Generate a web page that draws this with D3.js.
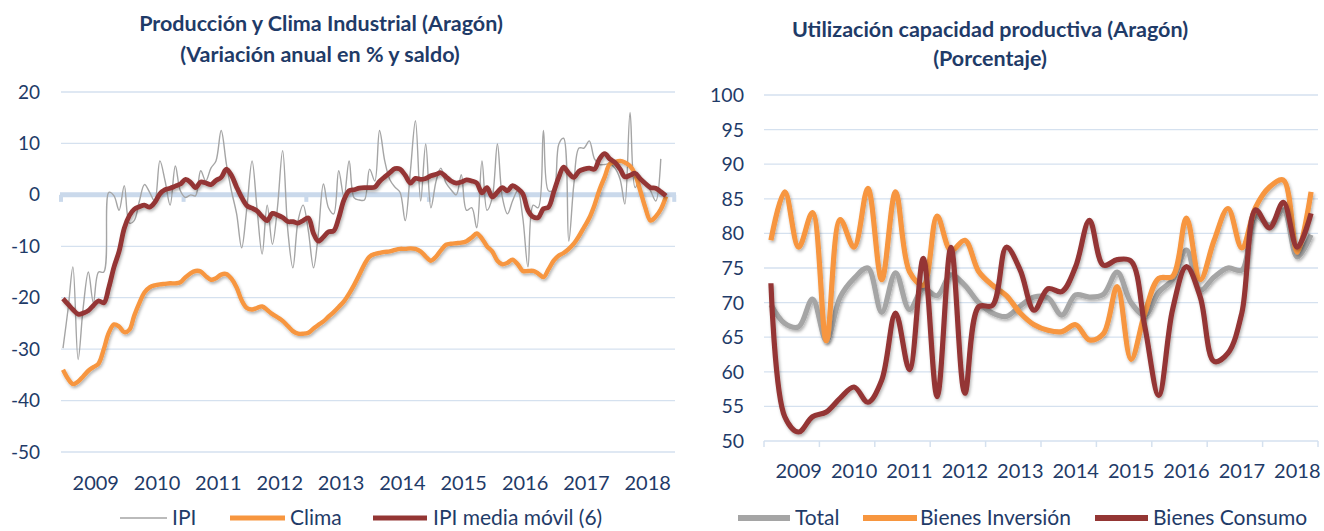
<!DOCTYPE html>
<html><head><meta charset="utf-8">
<script src="https://cdn.jsdelivr.net/npm/d3@7"></script>
<style>
body{margin:0;background:#fff}
svg{display:block}
text{font-family:Lato,"Open Sans",sans-serif}
</style>
</head><body>
<svg id="c" width="1324" height="531"></svg>
<script>
// ---------- DATA ----------
const years = ["2009","2010","2011","2012","2013","2014","2015","2016","2017","2018"];
const leftTicks = [20,10,0,-10,-20,-30,-40,-50];
const rightTicks = [100,95,90,85,80,75,70,65,60,55,50];

// Left chart: monthly, Jan 2009 onward
const ipi = [-29.8,-22,-14,-32,-22,-15,-21,-15,-15,0.5,-0.2,-3,
  1.8,-5.5,-5,-1.2,2,0.5,-1.2,6.6,2.7,-2,5.6,0.8,
  -0.5,0,-0.2,4.7,2.7,5.2,6.6,12.5,6,0.8,-3.7,-10.3,
  -2.5,6.6,-2.5,-11.5,-2,-9.6,-2.5,8.6,-7,-14.2,-5,-2,
  -7,-14.2,-7.8,2.1,-2.5,-3.7,4.7,-0.4,6.6,-0.6,-1,-1,
  5,2.7,12.5,6.6,3,1.5,0.5,-5,4.7,14.4,-1.2,9.9,
  -2.5,2.7,5.2,2.3,1,0,3.9,-3,-2.5,-6.4,6.6,-3,
  -0.6,9.9,-0.4,-3.7,-1.2,0.8,-4.4,-14,-2,-2.5,12.5,0.8,
  1,9.9,11,-9,2,9.1,9.1,10.5,7,5.9,5.9,6,
  5.2,3,-1.8,16,1.4,3.3,2.5,0.8,-1.2,7];
const clima = [-34,-35.8,-36.8,-36.3,-35.3,-34.2,-33.5,-32.8,-30,-26.8,-25.2,-25.6,
  -26.7,-26.2,-23.5,-21,-19,-18,-17.6,-17.4,-17.3,-17.2,-17.2,-17,
  -16,-15.2,-14.8,-14.9,-15.8,-16.5,-16.2,-15.5,-15.4,-16.3,-18,-20.5,
  -22,-22.3,-22,-21.7,-22.4,-23.2,-23.8,-24.5,-25.5,-26.5,-27,-27,
  -26.8,-26,-25.3,-24.6,-23.7,-22.8,-21.8,-20.7,-19.2,-17.5,-15.5,-13.5,
  -12,-11.5,-11.3,-11.1,-11,-10.7,-10.5,-10.5,-10.4,-10.5,-11,-12,
  -12.8,-12,-10.8,-9.7,-9.5,-9.4,-9.3,-9,-8.3,-7.5,-8.5,-10,
  -11,-12.8,-13.5,-13.2,-12.6,-13.5,-14.8,-14.8,-14.8,-15.3,-16,-14.5,
  -12.8,-11.8,-11.3,-10.5,-9.5,-8,-6.3,-4.5,-2,1,3.5,6,
  6.4,6.6,6.3,5.6,4,0.8,-2.5,-5,-4.2,-2.8,-0.3];
const ipiMM = [-20.2,-21.3,-22.3,-23.2,-23,-22.5,-21.5,-20.6,-21,-18,-14,-11,
  -6.5,-4,-2.8,-2.3,-2,-2.4,-1.5,0.2,1,1.3,1.7,2.1,
  3,2.4,1.4,2.5,2.3,2,2.8,3.4,5,3.8,1.5,-0.5,
  -2.1,-2.6,-3.1,-4.2,-5,-3.6,-3.9,-4.4,-5.2,-5.2,-5.5,-5,
  -4.5,-7.5,-9,-8.2,-7.2,-7,-4.5,-1,0.8,1,1.3,1.4,
  1.4,1.5,2.6,3.5,4.3,5.1,5,3.8,2.3,3.2,3,3.2,
  3.7,4,4.3,3.5,2.7,2.3,2.5,2.9,2.7,2.3,0.4,1.4,
  -0.4,0.5,1.4,0.8,1.8,1.2,0.2,-3,-4.3,-4.4,-2.7,-2.4,
  0.5,3.5,5.4,4.2,3.4,4.6,5,5.2,5,7,8,7,
  6.3,5,3.5,3.8,4.2,3.1,2.2,1.4,1.3,0.6,-0.2];

// Right chart: quarterly, 2009 Q1 onward
const total = [69.7,67,66.5,70.5,64.5,70.8,73.5,75,68.6,74.3,69,72,
  71,74,72.5,70,68.5,68,69.5,70.8,70.7,68.2,71.1,70.8,
  71.2,74.4,70,68.2,71.5,73.3,77.6,71.8,73.7,75,74.7,82.5,
  81.2,83.4,76.6,79.8];
const inversion = [79,86,78,83,64.5,82,78,86.5,73.3,86,74.5,72.5,
  82.5,77.5,79,74.5,72.5,71,68.5,66.8,66,65.8,66.8,64.6,
  65.5,72.3,61.8,68.5,73.5,73.8,82.2,73.3,79,83.6,77.9,83.8,
  86.7,87.7,77.3,86];
const consumo = [72.8,53.5,51.3,53.5,54.2,56.2,57.8,55.6,58.8,68.5,60.3,76.4,
  56.4,78,56.9,69.4,69.6,78,74.7,68.9,72,71.6,75.2,81.9,
  75.4,76.2,76,66.5,56.6,69,75.2,70.8,61.5,62.7,68.5,83.4,
  80.8,84.5,78,82.9];

// ---------- STYLE ----------
const navy = "#1f3b68";
const gridCol = "#d5e1ef";
const cGray = "#a5a5a5", cOrange = "#f7963f", cRed = "#943634";

const svg = d3.select("#c");
const defs = svg.append("defs");
const f = defs.append("filter").attr("id","sh").attr("x","-5%").attr("y","-10%").attr("width","110%").attr("height","130%");
f.append("feDropShadow").attr("dx",1.2).attr("dy",2).attr("stdDeviation",1.4)
  .attr("flood-color","#000").attr("flood-opacity",0.3);

// ---------- LEFT CHART ----------
const months = d3.timeMonth.range(new Date(2009,0,1), new Date(2018,11,2));
const xL = d3.scaleTime().domain([new Date(2009,0,1), new Date(2018,10,1)]).range([63,666]);
const yL = d3.scaleLinear().domain([-50,20]).range([452,92]);
const gL = svg.append("g");

gL.selectAll("line.grid").data(leftTicks.filter(d=>d!==0)).join("line")
  .attr("x1",61).attr("x2",675).attr("y1",d=>yL(d)).attr("y2",d=>yL(d))
  .attr("stroke",gridCol).attr("stroke-width",1.3);
gL.append("line").attr("x1",60).attr("x2",676).attr("y1",yL(0)).attr("y2",yL(0))
  .attr("stroke","#cad9eb").attr("stroke-width",5);
const tickDates = d3.range(2009,2020,2).map(y=>new Date(y,0,1));
gL.selectAll("line.tk").data(tickDates).join("line")
  .attr("x1",d=>xL(d)-2).attr("x2",d=>xL(d)-2).attr("y1",yL(0)).attr("y2",yL(0)+7)
  .attr("stroke","#cad9eb").attr("stroke-width",4);

gL.selectAll("text.yl").data(leftTicks).join("text")
  .attr("x",40).attr("y",d=>yL(d)+6.5).attr("text-anchor","end")
  .attr("font-size",19).attr("fill",navy).text(d=>d);
gL.selectAll("text.xl").data(years).join("text")
  .attr("x",d=>xL(new Date(+d,6,15))).attr("y",490).attr("text-anchor","middle")
  .attr("font-size",20).attr("fill",navy).text(d=>d);

const lineL = arr => d3.line().x((d,i)=>xL(months[i])).y(d=>yL(d)).curve(d3.curveCatmullRom.alpha(0.5))(arr);
gL.append("path").attr("d",lineL(ipi)).attr("fill","none").attr("stroke",cGray).attr("stroke-width",1.4);
gL.append("path").attr("d",lineL(clima)).attr("fill","none").attr("stroke",cOrange).attr("stroke-width",4.4)
  .attr("stroke-linejoin","round").attr("filter","url(#sh)");
gL.append("path").attr("d",lineL(ipiMM)).attr("fill","none").attr("stroke",cRed).attr("stroke-width",4.8)
  .attr("stroke-linejoin","round").attr("filter","url(#sh)");

// titles
svg.append("text").attr("x",321).attr("y",31).attr("text-anchor","middle").attr("font-size",21.5)
  .attr("font-weight","bold").attr("fill",navy).text("Producción  y Clima Industrial  (Aragón)");
svg.append("text").attr("x",320).attr("y",62).attr("text-anchor","middle").attr("font-size",21.5)
  .attr("font-weight","bold").attr("fill",navy).text("(Variación anual  en % y saldo)");

// left legend
const legL = [
  {name:"IPI", c:cGray, w:1.5, x1:120, x2:167, tx:172},
  {name:"Clima", c:cOrange, w:5, x1:230, x2:285, tx:290},
  {name:"IPI media móvil (6)", c:cRed, w:5, x1:373, x2:427, tx:433}];
legL.forEach(l=>{
  svg.append("line").attr("x1",l.x1).attr("x2",l.x2).attr("y1",518).attr("y2",518)
    .attr("stroke",l.c).attr("stroke-width",l.w);
  svg.append("text").attr("x",l.tx).attr("y",525).attr("font-size",21).attr("fill",navy).text(l.name);
});

// ---------- RIGHT CHART ----------
const xR = d3.scaleLinear().domain([0,40]).range([764,1318]);
const yR = d3.scaleLinear().domain([50,100]).range([441,95]);
const gR = svg.append("g");
gR.selectAll("line.grid").data(rightTicks).join("line")
  .attr("x1",764).attr("x2",1318).attr("y1",d=>yR(d)).attr("y2",d=>yR(d))
  .attr("stroke",gridCol).attr("stroke-width",1.3);
gR.selectAll("line.tk").data(d3.range(0,41,4)).join("line")
  .attr("x1",d=>xR(d)).attr("x2",d=>xR(d)).attr("y1",yR(50)).attr("y2",yR(50)+6)
  .attr("stroke",gridCol).attr("stroke-width",1.5);
gR.selectAll("text.yl").data(rightTicks).join("text")
  .attr("x",744).attr("y",d=>yR(d)+7).attr("text-anchor","end")
  .attr("font-size",19.5).attr("fill",navy).text(d=>d);
gR.selectAll("text.xl").data(years).join("text")
  .attr("x",(d,i)=>xR(i*4+2)+7).attr("y",478).attr("text-anchor","middle")
  .attr("font-size",20).attr("fill",navy).text(d=>d);

const lineR = arr => d3.line().x((d,i)=>xR(i+0.5)).y(d=>yR(d)).curve(d3.curveCatmullRom.alpha(0.5))(arr);
[[total,cGray],[inversion,cOrange],[consumo,cRed]].forEach(([a,c])=>{
  gR.append("path").attr("d",lineR(a)).attr("fill","none").attr("stroke",c).attr("stroke-width",5.2)
    .attr("stroke-linejoin","round").attr("filter","url(#sh)");
});

svg.append("text").attr("x",990).attr("y",37).attr("text-anchor","middle").attr("font-size",21.5)
  .attr("font-weight","bold").attr("fill",navy).text("Utilización capacidad productiva  (Aragón)");
svg.append("text").attr("x",990).attr("y",66).attr("text-anchor","middle").attr("font-size",21.5)
  .attr("font-weight","bold").attr("fill",navy).text("(Porcentaje)");

const legR = [
  {name:"Total", c:cGray, x1:738, x2:790, tx:795},
  {name:"Bienes Inversión", c:cOrange, x1:863, x2:917, tx:920},
  {name:"Bienes Consumo", c:cRed, x1:1095, x2:1148, tx:1153}];
legR.forEach(l=>{
  svg.append("line").attr("x1",l.x1).attr("x2",l.x2).attr("y1",518).attr("y2",518)
    .attr("stroke",l.c).attr("stroke-width",6);
  svg.append("text").attr("x",l.tx).attr("y",525).attr("font-size",21).attr("fill",navy).text(l.name);
});
</script>
</body></html>
